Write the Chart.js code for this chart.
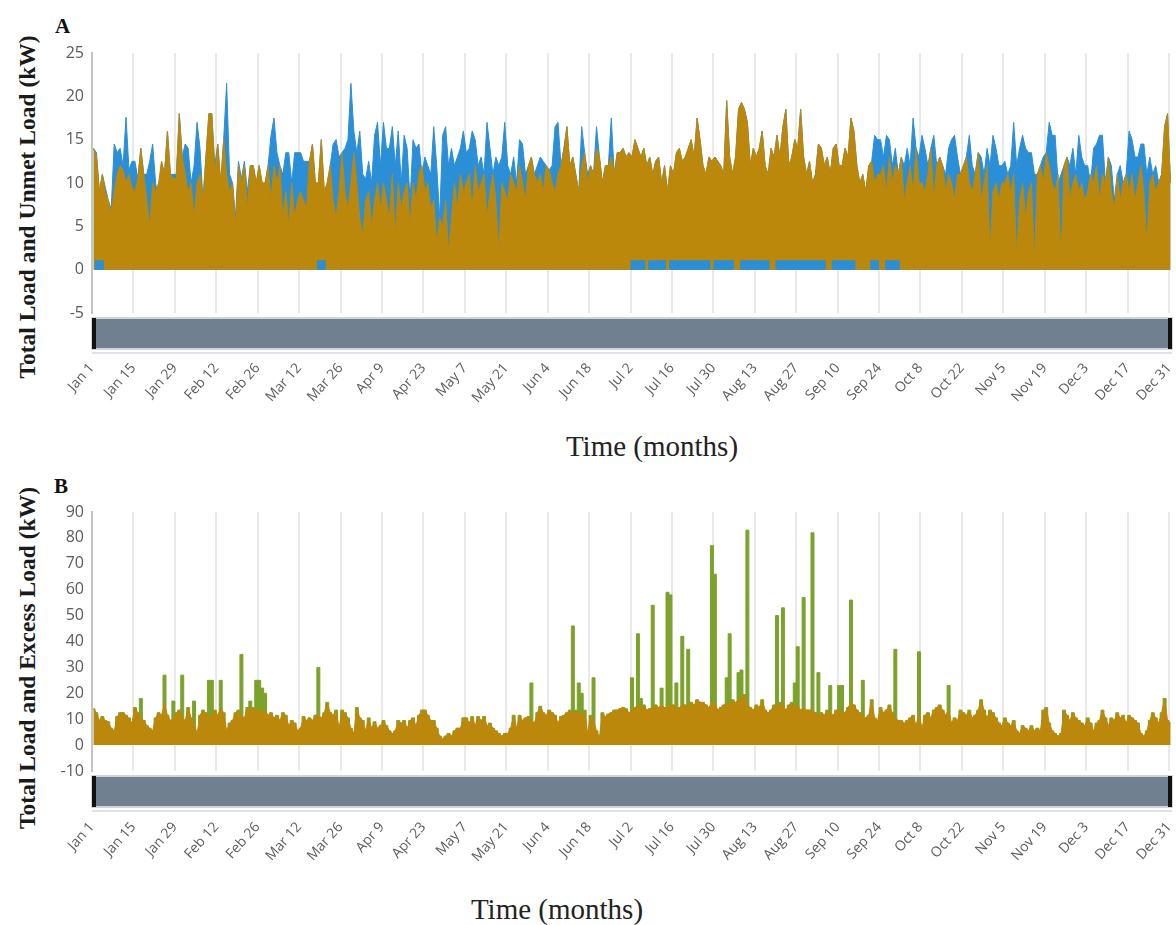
<!DOCTYPE html>
<html>
<head>
<meta charset="utf-8">
<script src="https://cdn.jsdelivr.net/npm/chart.js@4.4.1/dist/chart.umd.min.js"></script>
<style>
  body { margin: 0; background: #fff; }
  #page { position: relative; width: 1176px; height: 925px; overflow: hidden; }
  .wrap { position: absolute; left: 40px; width: 1136px; }
  .panel { position: absolute; font: bold 21px "Liberation Serif", "Times New Roman", serif; color: #111; }
  .ytitle { position: absolute; font: bold 23.5px "Liberation Serif", "Times New Roman", serif; color: #1a1a1a;
            white-space: nowrap; transform: translate(-50%, -50%) rotate(-90deg); }
  .xtitle { position: absolute; font: 29px "Liberation Serif", "Times New Roman", serif; color: #222;
            white-space: nowrap; transform: translate(-50%, -50%); }
</style>
</head>
<body>
<div id="page">
  <div class="panel" style="left:55px;top:14px">A</div>
  <div class="ytitle" style="left:27px;top:207px">Total Load and Unmet Load (kW)</div>
  <div class="wrap" style="top:0;height:420px"><canvas id="chartA"></canvas></div>
  <div class="xtitle" style="left:652px;top:446px">Time (months)</div>

  <div class="panel" style="left:54px;top:474px">B</div>
  <div class="ytitle" style="left:27px;top:658px">Total Load and Excess Load (kW)</div>
  <div class="wrap" style="top:470px;height:400px"><canvas id="chartB"></canvas></div>
  <div class="xtitle" style="left:557px;top:909px">Time (months)</div>
</div>
<script>
// x axis: day of year (0 = Jan 1), one label every two weeks
const tickLabels = ['Jan 1', 'Jan 15', 'Jan 29', 'Feb 12', 'Feb 26', 'Mar 12', 'Mar 26', 'Apr 9', 'Apr 23',
  'May 7', 'May 21', 'Jun 4', 'Jun 18', 'Jul 2', 'Jul 16', 'Jul 30', 'Aug 13', 'Aug 27', 'Sep 10', 'Sep 24',
  'Oct 8', 'Oct 22', 'Nov 5', 'Nov 19', 'Dec 3', 'Dec 17', 'Dec 31'];

// Panel A - daily peak of total load (gold), kW, one row per two weeks
const totalLoadA = [
  14, 13, 9, 11, 9, 8, 6.5, 9, 11, 12, 11.5, 10, 11, 9.5,
  9, 10.5, 14, 11, 8, 5, 10, 9, 10, 12.5, 11, 16, 11, 10.5,
  10.5, 18, 13, 11, 9, 10, 6, 10, 11, 8, 13, 18, 18, 11,
  14.5, 10, 15, 11, 9, 10, 5, 12, 10, 12, 7, 12, 12, 10,
  12, 10, 10, 12, 8, 12, 10, 12, 6, 9, 5, 10, 6, 8,
  9, 8, 7, 12.5, 14.5, 10, 10, 15, 9, 10, 12, 8, 6, 9,
  13.5, 9, 7, 10, 13.5, 10, 6, 4, 8, 9, 5, 8, 10, 7,
  10, 8, 6, 11, 4, 10, 7, 9, 10, 5, 10, 8, 11, 12,
  9, 10, 7, 8, 3, 6, 5, 8, 2, 6, 10, 7, 11, 9,
  10, 11, 7, 12, 9, 10, 11, 6, 9, 11, 8, 2, 10, 9,
  8, 11, 10, 9, 12, 10, 8, 12, 13, 11, 10, 11, 9, 12,
  11.5, 10, 9, 11, 12, 14, 16.5, 12, 13, 11, 9, 12, 13.5, 10,
  12, 11, 14, 13, 10, 12, 12, 13, 11, 13.5, 13.5, 14, 13, 13.5,
  13, 15, 14, 13, 14, 12, 13, 11, 12.5, 13, 10, 12, 9, 12,
  11, 13.5, 14, 12.5, 13, 14, 15, 13, 17.5, 15, 12, 11, 13, 12.5,
  13, 12.5, 12, 11, 19.5, 13, 11, 13, 18.5, 19.3, 18.5, 17, 12, 14,
  13, 14, 16, 12, 11, 14, 13, 15.5, 13, 16.5, 18.5, 12, 13, 15,
  14, 18.5, 13, 11, 12.5, 10, 11, 14.5, 14, 12, 13, 11, 14, 14.5,
  12, 12, 14, 13, 17.5, 16, 12, 10, 11, 9, 12, 12.5, 10, 11,
  11, 12, 9, 13, 10, 12, 11, 13, 8, 10, 12, 9, 14, 10,
  10, 9, 11, 14, 8, 12, 13, 12, 9, 11, 10, 8, 11, 11,
  12, 13, 10, 9, 11, 13.5, 8, 10, 12, 2, 9, 10, 8, 10,
  10, 11, 9, 11, 1.5, 8, 10, 6, 9, 10, 1, 11, 12, 10,
  13.5, 12, 10, 9, 11, 1, 12, 13, 8, 10, 11, 9, 10, 8,
  9, 11, 10, 12, 8, 11, 10, 13, 9, 7, 11, 8, 10, 11,
  9, 11, 8, 10, 12, 9, 3, 10, 11, 9, 10, 11, 16.5, 18,
  10
];

// Panel A - daily peak of unmet load (blue), kW
const unmetLoadA = [
  14, 13.5, 9, 11, 9.5, 8, 7, 14.5, 13.5, 14, 12, 17.6, 11.5, 12.5,
  12.5, 10.5, 14, 11, 11, 12.5, 14.5, 10, 8, 12.5, 11, 16, 11, 11,
  11, 18, 13, 14.5, 14, 10, 12, 17, 14, 8, 13, 18, 18, 12,
  14.5, 10, 15, 21.5, 11, 10, 6, 12.5, 10.5, 12.5, 9, 12, 12, 10,
  12, 10, 10, 12, 15.5, 17.5, 13.5, 12, 11, 13.5, 13.5, 10, 13.5, 13.5,
  13.5, 12.5, 12.5, 12.5, 14.5, 10, 10, 15, 9, 10, 12, 14.5, 15, 13,
  13.5, 14, 15, 21.5, 16, 13.5, 16, 11, 10.5, 12.5, 10, 15.5, 17, 12,
  17, 14, 14, 16.5, 12, 16, 10, 15.5, 14, 8, 15, 14, 14.5, 11,
  13, 12, 11, 16.5, 12, 6, 15.5, 16.5, 12, 14, 12, 13, 14, 16,
  13.5, 14, 16, 15, 12, 13, 11, 17, 14, 11, 13, 12, 13, 17,
  12, 11, 13, 10, 15, 14.5, 11, 12, 13, 11, 12, 13, 12.5, 12,
  11.5, 12, 16.5, 17, 12, 14, 16.5, 12, 13, 11, 9, 16.5, 13.5, 11,
  12, 11, 16.5, 13, 10, 12, 12, 17.5, 11, 13.5, 13.5, 14, 13, 13.5,
  13, 15, 14, 13, 14, 12, 13, 11, 12.5, 13, 10, 12, 9, 12,
  11, 13.5, 14, 12.5, 13, 14, 15, 13, 17.5, 15, 12, 11, 13, 12.5,
  13, 12.5, 12, 11, 19.5, 13, 11, 13, 18.5, 19.3, 18.5, 17, 12, 14,
  13, 14, 16, 12, 11, 14, 13, 15.5, 13, 16.5, 18.5, 12, 13, 15,
  14, 18.5, 13, 11, 12.5, 10, 11, 14.5, 14, 12, 13, 11, 14, 14.5,
  12, 12, 14, 13, 17.5, 16, 12, 10, 11, 9, 12, 12.5, 15.5, 15,
  15, 13, 15.5, 15, 12, 14, 11, 13, 12, 14, 12, 17.5, 14, 13,
  15.5, 14, 12, 14, 15.5, 12, 13, 12, 11, 14, 15, 15.5, 13, 11,
  12, 13, 15.5, 12, 11, 13.5, 13, 11, 14, 12, 15.5, 14, 12, 12,
  12.5, 11, 12, 17, 12, 14, 15.5, 14, 13.5, 13.5, 11, 11, 12, 13,
  13.5, 17, 15.5, 15.5, 10, 11, 12, 13, 12, 14, 11, 15.5, 13, 12,
  12, 10, 14, 14.5, 15.5, 15.5, 10, 13, 12, 8, 11, 12, 10, 11,
  16, 15, 13, 13, 14.5, 14.5, 11, 13, 11, 12, 10, 11, 16.5, 18,
  10
];

// Panel A - periods (first day, last day) with a small unmet load near zero, and its level in kW
const unmetBasePeriodsA = [[1, 3], [76, 78], [182, 186], [188, 193], [195, 208], [210, 216],
  [219, 228], [231, 247], [250, 257], [263, 265], [268, 272]];
const unmetBaseLevelA = 1.1;

// Panel B - daily peak of total load (gold), kW
const totalLoadB = [
  14, 12.5, 9.5, 11, 9.5, 9, 6.5, 5.5, 11, 12.5, 12.5, 11.5, 10.5, 8.5,
  14.5, 12.5, 10.5, 9.5, 7.5, 6.5, 5.5, 10.5, 12.5, 11.5, 16, 11.5, 9.5, 10.5,
  12.5, 13.5, 10.5, 9.5, 14.5, 10.5, 8.5, 4.5, 11.5, 13.5, 12.5, 10.5, 11.5, 13.5,
  11.5, 14.5, 12.5, 5.5, 8.5, 9.5, 12.5, 13.5, 11.5, 10.5, 14.5, 13.5, 14.5, 13.5,
  13.5, 12.5, 13.5, 11.5, 12.5, 10.5, 11.5, 9.5, 12.5, 11.5, 7.5, 9.5, 8.5, 5.5,
  6.5, 11, 9.5, 10.5, 9.5, 11.5, 11.5, 10.5, 12.5, 16.5, 12.5, 11.5, 13.5, 6.5,
  13.5, 12.5, 10.5, 6.5, 4.5, 14.5, 10.5, 9.5, 5.5, 10.5, 6.5, 9, 6.5, 7.5,
  9.5, 7.5, 5.5, 4.5, 5.5, 9.5, 8.5, 9.5, 6.5, 9.5, 10.5, 7.5, 11.5, 13.5,
  13.5, 11.5, 9.5, 9.5, 6.5, 3.5, 2.5, 3.5, 4.5, 3.5, 5.5, 6.5, 6.5, 10.5,
  10.5, 8.5, 11, 7.5, 11, 9.5, 11, 7.5, 8.5, 6.5, 5.5, 4.5, 3.5, 4.5,
  4.5, 6.5, 11.5, 6.5, 11.5, 9.5, 10.5, 11, 9.5, 8.5, 12.5, 15, 12.5, 11.5,
  13.5, 12.5, 11.5, 8.5, 11, 11.5, 12.5, 13.5, 11.5, 13.5, 12.5, 11.5, 13.5, 4.5,
  11.5, 9.5, 5.5, 3, 12.5, 11, 12, 12.5, 13.5, 13.5, 14, 14.5, 14, 12.5,
  13.5, 14.5, 15.5, 14.5, 15.5, 13.5, 14, 14.5, 15.5, 14.5, 15.5, 14.5, 14.5, 15.5,
  15.5, 14.5, 14.5, 15.5, 15.5, 14.5, 16.5, 15.5, 17.5, 16.5, 16.5, 15.5, 14.5, 16.5,
  16.5, 13.5, 14.5, 15.5, 16.5, 15.5, 17.5, 16.5, 17.5, 18.5, 19.5, 15.5, 14.5, 13.5,
  15.5, 14.5, 17.5, 13.5, 12.5, 13.5, 15.5, 14.5, 16.5, 15.5, 13.5, 15.5, 16.5, 14.5,
  15.5, 13.5, 14.5, 13.5, 13.5, 13.5, 12.5, 11.5, 12.5, 11.5, 13.5, 12.5, 11.5, 13.5,
  13.5, 12.5, 12.5, 14.5, 16.5, 15.5, 13.5, 12.5, 11.5, 10.5, 11.5, 17.5, 10.5, 9.5,
  14.5, 12.5, 13.5, 15.5, 12.5, 10.5, 9.5, 9.5, 8.5, 9.5, 10.5, 11.5, 7.5, 12.5,
  6.5, 11.5, 12.5, 10.5, 13.5, 14.5, 15.5, 13.5, 11.5, 13.5, 8.5, 10.5, 9.5, 13.5,
  12.5, 11.5, 13.5, 10.5, 11.5, 13.5, 17.5, 13.5, 10.5, 13.5, 12.5, 10.5, 8.5, 7.5,
  10.5, 8.5, 7.5, 9.5, 5.5, 4.5, 7.5, 6.5, 5.5, 7.5, 5.5, 6.5, 5.5, 13.5,
  14.5, 8.5, 5.5, 4.5, 3.5, 4.5, 13.5, 11.5, 9.5, 12.5, 10.5, 9.5, 8.5, 7.5,
  10.5, 8.5, 5.5, 8.5, 9.5, 13.5, 10.5, 7.5, 10.5, 9.5, 12.5, 10.5, 11.5, 8.5,
  11.5, 10.5, 9.5, 8.5, 4.5, 3.5, 5.5, 9.5, 12.5, 10.5, 8.5, 12.5, 18, 9.5,
  8.5
];

// Panel B - days with excess load (green) and the peak total + excess on those days, kW
const excessDaysB = [16, 24, 27, 30, 34, 39, 40, 43, 50, 53, 55, 56, 57, 58, 76,
  148, 162, 164, 165, 169, 182, 184, 185, 189, 192, 194, 195, 197, 199, 201,
  209, 210, 214, 215, 218, 219, 221, 231, 233, 237, 238, 240, 243, 245, 249,
  252, 253, 256, 260, 271, 279, 289];
const excessPeakB = [18, 27, 17, 27, 17, 25, 25, 25, 35, 17, 25, 25, 22, 20, 30,
  24, 46, 24, 20, 26, 26, 43, 18, 54, 22, 59, 58, 24, 42, 37,
  77, 66, 26, 43, 28, 29, 83, 50, 53, 24, 38, 57, 82, 28, 23,
  23, 23, 56, 25, 37, 36, 23];

const GOLD = '#bb880b';
const BLUE = '#2a8fd6';
const GREEN = '#7ba22a';

const toPoints = arr => arr.map((v, i) => ({ x: i + 0.5, y: v }));

const unmetBaseA = totalLoadA.map((v, i) =>
  unmetBasePeriodsA.some(p => i >= p[0] && i <= p[1]) ? unmetBaseLevelA : 0);
const excessB = totalLoadB.map((v, i) => {
  const k = excessDaysB.indexOf(i);
  return k >= 0 ? excessPeakB[k] : v;
});

// grey range bar drawn between the plot and the date labels
const navigatorBar = {
  id: 'navigatorBar',
  afterDraw(chart) {
    const { ctx, chartArea: a } = chart;
    const top = a.bottom + 5, h = 31, w = a.right - a.left;
    ctx.save();
    ctx.fillStyle = '#708090';
    ctx.fillRect(a.left, top, w, h);
    ctx.strokeStyle = '#cdd6de';
    ctx.lineWidth = 2;
    ctx.strokeRect(a.left, top, w, h);
    ctx.fillStyle = '#111';
    ctx.fillRect(a.left, top, 4, h);
    ctx.fillRect(a.right - 4, top, 4, h);
    ctx.strokeStyle = '#dde3e8';
    ctx.beginPath();
    ctx.moveTo(a.left, top + h + 4);
    ctx.lineTo(a.right, top + h + 4);
    ctx.stroke();
    ctx.restore();
  }
};

function areaSet(data, color, extra) {
  return Object.assign({
    data: toPoints(data),
    borderColor: color,
    backgroundColor: color,
    borderWidth: 1,
    pointRadius: 0,
    tension: 0,
    fill: 'origin'
  }, extra || {});
}

function makeChart(id, datasets, yMin, yMax, yStep, padTop, xHeight, labelPad) {
  return new Chart(document.getElementById(id), {
    type: 'line',
    data: { datasets },
    plugins: [navigatorBar],
    options: {
      responsive: true,
      maintainAspectRatio: false,
      animation: false,
      layout: { padding: { top: padTop, right: 4, bottom: 0, left: 0 } },
      plugins: { legend: { display: false }, tooltip: { enabled: false } },
      scales: {
        x: {
          type: 'linear',
          min: 0,
          max: 365,
          afterFit: s => { s.height = xHeight; s.paddingLeft = 0; s.paddingRight = 0; },
          grid: { color: '#e9e9e9', lineWidth: 2, drawTicks: false },
          border: { display: false },
          ticks: {
            stepSize: 14,
            includeBounds: false,
            autoSkip: false,
            minRotation: 48,
            maxRotation: 48,
            padding: labelPad,
            color: '#5c5c5c',
            font: { family: 'Open Sans', size: 14 },
            callback: v => tickLabels[v / 14] || ''
          }
        },
        y: {
          min: yMin,
          max: yMax,
          afterFit: s => { s.width = 52; },
          grid: { display: false, drawTicks: false },
          border: { display: true, color: '#c4c4c4', width: 2 },
          ticks: {
            stepSize: yStep,
            padding: 8,
            color: '#5c5c5c',
            font: { family: 'Open Sans', size: 16 }
          }
        }
      }
    }
  });
}

makeChart('chartA', [
  areaSet(unmetBaseA, BLUE, { borderWidth: 0, stepped: 'middle' }),
  areaSet(totalLoadA, GOLD),
  areaSet(unmetLoadA, BLUE)
], -5, 25, 5, 53, 107, 47);

makeChart('chartB', [
  areaSet(totalLoadB, GOLD),
  areaSet(excessB, GREEN, { stepped: 'middle' })
], -10, 90, 10, 42, 99, 48);
</script>
</body>
</html>
